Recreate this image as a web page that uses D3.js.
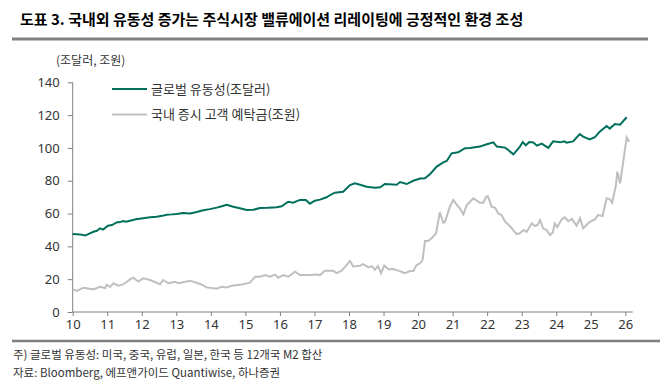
<!DOCTYPE html>
<html>
<head>
<meta charset="utf-8">
<script src="https://cdn.jsdelivr.net/npm/d3@7"></script>
<style>
  body { margin: 0; background: #fff; }
  svg text { font-family: "Noto Sans CJK KR", "Noto Sans", sans-serif; }
</style>
</head>
<body>
<div id="chart"></div>
<script>
// 글로벌 유동성 (조달러) : [연도(20xx), 값]
var liquidity = [
  [10.00,47.5],[10.21,47.3],[10.36,46.6],[10.60,48.9],[10.70,49.5],[10.79,51.0],[10.88,50.2],
  [11.02,52.6],[11.14,53.0],[11.27,54.6],[11.37,54.8],[11.46,55.4],[11.54,55.0],[11.66,55.6],[11.83,56.5],
  [12.04,57.1],[12.24,57.7],[12.43,58.1],[12.59,58.6],[12.72,59.3],[12.87,59.5],
  [13.01,59.8],[13.19,60.3],[13.40,60.1],[13.59,60.9],[13.78,62.0],[13.97,62.7],
  [14.17,63.6],[14.32,64.5],[14.46,65.4],[14.65,64.2],[14.84,63.2],
  [15.04,62.2],[15.23,62.3],[15.42,63.4],[15.65,63.5],[15.91,63.8],
  [16.05,64.4],[16.24,67.2],[16.38,66.6],[16.58,68.3],[16.75,68.2],[16.87,66.0],
  [17.01,67.8],[17.16,68.5],[17.35,69.9],[17.48,71.6],[17.59,72.7],[17.83,73.3],
  [18.03,77.4],[18.17,78.4],[18.32,77.6],[18.51,76.4],[18.75,75.8],[18.90,76.0],
  [19.04,78.0],[19.38,77.6],[19.48,79.2],[19.67,78.0],[19.86,80.0],
  [20.06,81.3],[20.20,81.5],[20.35,84.1],[20.54,88.6],[20.73,91.2],[20.83,92.0],[20.97,96.7],
  [21.16,97.3],[21.36,99.8],[21.50,100.0],[21.79,100.8],[21.99,102.2],
  [22.18,103.4],[22.28,100.8],[22.52,100.2],[22.61,98.7],[22.76,96.1],[22.95,100.8],
  [23.03,103.6],[23.12,101.6],[23.22,103.6],[23.34,103.3],[23.44,101.4],[23.58,102.6],[23.77,100.0],[23.91,104.0],
  [24.11,103.4],[24.23,104.0],[24.30,103.2],[24.49,104.0],[24.68,108.5],[24.78,106.9],[24.97,105.2],
  [25.12,106.6],[25.26,109.9],[25.46,113.4],[25.55,111.8],[25.70,114.6],[25.85,114.2],[26.04,118.7]
];

// 국내 증시 고객 예탁금 (조원)
var deposits = [
  [10.00,13.8],[10.12,12.8],[10.31,14.8],[10.60,13.8],[10.79,15.4],[10.94,14.6],[10.98,16.6],
  [11.08,15.2],[11.18,17.5],[11.32,16.0],[11.46,16.8],[11.66,19.9],[11.75,20.9],[11.90,18.6],
  [12.04,20.5],[12.24,19.5],[12.53,16.9],[12.62,19.5],[12.77,17.5],[12.96,18.4],
  [13.06,17.5],[13.40,19.1],[13.69,17.1],[13.88,15.0],
  [14.17,14.2],[14.31,15.4],[14.46,15.0],[14.60,16.0],[14.89,16.7],
  [15.13,17.9],[15.28,21.5],[15.42,21.5],[15.57,22.5],[15.71,21.5],[15.86,22.8],[15.95,20.9],
  [16.10,22.5],[16.24,21.5],[16.44,24.6],[16.58,22.5],[16.87,22.5],
  [17.06,22.8],[17.16,22.5],[17.30,25.2],[17.54,25.2],[17.64,23.7],[17.79,25.2],[17.93,28.6],
  [18.03,31.1],[18.12,27.8],[18.32,28.2],[18.41,29.2],[18.56,27.2],[18.66,28.0],[18.75,25.8],[18.84,28.0],[18.93,23.5],
  [19.02,28.3],[19.14,26.0],[19.28,26.2],[19.43,25.2],[19.62,23.6],[19.77,25.0],[19.86,25.0],[19.96,28.6],
  [20.06,29.7],[20.13,31.7],[20.20,43.3],[20.29,43.3],[20.39,44.9],[20.52,48.0],[20.63,60.8],[20.73,54.4],[20.78,55.0],[20.92,64.2],
  [21.02,68.3],[21.16,64.2],[21.21,63.2],[21.31,59.5],[21.41,65.2],[21.60,69.3],[21.79,66.6],[21.89,66.6],[21.97,70.3],
  [22.02,70.6],[22.13,64.2],[22.23,63.5],[22.32,60.1],[22.42,59.0],[22.52,55.0],[22.66,52.4],[22.85,47.5],[22.95,48.0],
  [23.05,50.0],[23.14,48.8],[23.29,54.0],[23.39,52.4],[23.46,53.0],[23.53,56.1],[23.62,51.0],[23.72,50.0],[23.82,46.9],[23.90,48.4],[23.96,54.0],
  [24.03,51.8],[24.16,56.5],[24.25,57.7],[24.35,55.3],[24.45,56.7],[24.59,52.6],[24.69,57.1],[24.78,51.0],[24.97,55.0],
  [25.12,56.4],[25.21,59.1],[25.34,58.5],[25.46,69.3],[25.55,68.8],[25.62,66.6],[25.73,77.4],[25.77,85.5],[25.85,78.4],
  [26.04,106.5],[26.11,103.8]
];

var yearTicks = d3.range(10, 27);
var valueTicks = [0, 20, 40, 60, 80, 100, 120, 140];
var legendLabels = ["글로벌 유동성(조달러)", "국내 증시 고객 예탁금(조원)"];
var colors = ["#00705C", "#BFBFBF"];

var title = "도표 3. 국내외 유동성 증가는 주식시장 밸류에이션 리레이팅에 긍정적인 환경 조성";
var unitLabel = "(조달러, 조원)";
var notes = ["주) 글로벌 유동성: 미국, 중국, 유럽, 일본, 한국 등 12개국 M2 합산",
             "자료: Bloomberg, 에프앤가이드 Quantiwise, 하나증권"];

var W = 672, H = 386;
var svg = d3.select("#chart").append("svg").attr("width", W).attr("height", H);

// title
svg.append("text").attr("x", 20).attr("y", 25)
  .style("font-size", "15px").style("font-weight", "bold").style("fill", "#000")
  .text(title);
svg.append("line").attr("x1", 12).attr("x2", 648).attr("y1", 39).attr("y2", 39)
  .style("stroke", "#808080").style("stroke-width", 3);

// scales
var x = d3.scaleLinear().domain([10, 26]).range([72.7, 625.3]);
var y = d3.scaleLinear().domain([0, 140]).range([312, 82.3]);

// y axis
var yAxis = svg.append("g").attr("transform", "translate(72.7,0)")
  .call(d3.axisLeft(y).tickValues(valueTicks).tickSize(5).tickPadding(8));
// x axis
var xAxis = svg.append("g").attr("transform", "translate(0,312)")
  .call(d3.axisBottom(x).tickValues(yearTicks).tickSize(4).tickPadding(4).tickSizeOuter(0));
xAxis.select(".domain").attr("d", "M72.7,0H632.7");
yAxis.select(".domain").attr("d", "M0,82.3V312");

[xAxis, yAxis].forEach(function(a){
  a.selectAll(".domain, .tick line").style("stroke", "#808080");
  a.selectAll(".tick text").style("font-size", "13px").style("fill", "#333")
    .style("font-family", "'Noto Sans', sans-serif");
});

svg.append("text").attr("x", 56).attr("y", 65)
  .style("font-size", "12px").style("fill", "#333").text(unitLabel);

// lines
var line = d3.line().x(function(d){ return x(d[0]); }).y(function(d){ return y(d[1]); });
svg.append("path").datum(deposits).attr("d", line)
  .style("fill", "none").style("stroke", colors[1]).style("stroke-width", 2);
svg.append("path").datum(liquidity).attr("d", line)
  .style("fill", "none").style("stroke", colors[0]).style("stroke-width", 2);

// legend
legendLabels.forEach(function(lab, i){
  var ly = 89 + i * 25.5;
  svg.append("line").attr("x1", 112).attr("x2", 147).attr("y1", ly).attr("y2", ly)
    .style("stroke", colors[i]).style("stroke-width", 2);
  svg.append("text").attr("x", 151).attr("y", ly + 4.5)
    .style("font-size", "13px").style("fill", "#333").text(lab);
});

// notes
svg.append("line").attr("x1", 12).attr("x2", 660).attr("y1", 341).attr("y2", 341)
  .style("stroke", "#808080").style("stroke-width", 2.5);
notes.forEach(function(t, i){
  svg.append("text").attr("x", 13).attr("y", 359 + i * 18)
    .style("font-size", "11.5px").style("fill", "#333").text(t);
});
</script>
</body>
</html>
